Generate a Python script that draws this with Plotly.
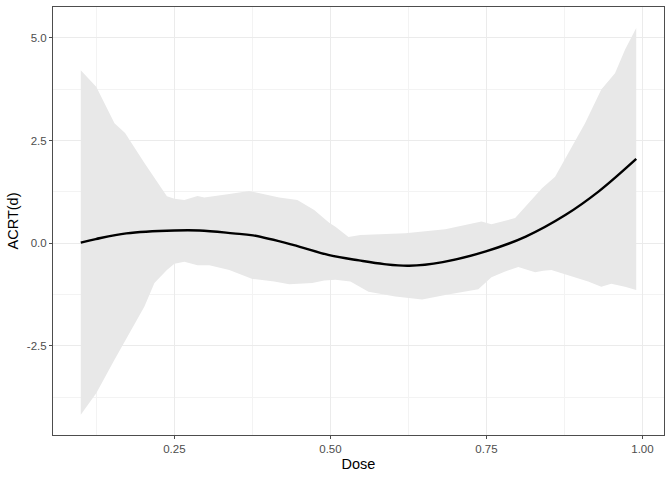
import plotly.graph_objects as go

# fitted curve
dose = [0.10, 0.124, 0.173, 0.25, 0.29, 0.344, 0.376, 0.44, 0.498, 0.546,
        0.586, 0.626, 0.68, 0.749, 0.813, 0.877, 0.93, 0.99]
acrt = [0.015, 0.10, 0.24, 0.31, 0.31, 0.24, 0.19, -0.04, -0.29, -0.42,
        -0.51, -0.55, -0.46, -0.20, 0.16, 0.69, 1.26, 2.05]

# confidence band, upper edge
up_x = [0.10, 0.125, 0.154, 0.171, 0.202, 0.226, 0.238, 0.25, 0.266, 0.287,
        0.298, 0.338, 0.37, 0.383, 0.418, 0.447, 0.474, 0.498, 0.508, 0.529,
        0.548, 0.62, 0.684, 0.742, 0.758, 0.796, 0.817, 0.839, 0.86, 0.881,
        0.908, 0.934, 0.956, 0.972, 0.99]
up_y = [4.21, 3.80, 2.92, 2.68, 1.95, 1.42, 1.14, 1.08, 1.05, 1.15,
        1.11, 1.20, 1.27, 1.23, 1.11, 1.05, 0.81, 0.50, 0.40, 0.15,
        0.20, 0.24, 0.34, 0.53, 0.46, 0.61, 0.97, 1.34, 1.62, 2.19,
        2.92, 3.74, 4.14, 4.71, 5.24]

# confidence band, lower edge
lo_x = [0.10, 0.125, 0.154, 0.171, 0.202, 0.218, 0.238, 0.25, 0.266, 0.287,
        0.306, 0.338, 0.375, 0.41, 0.434, 0.471, 0.49, 0.508, 0.532, 0.561,
        0.604, 0.647, 0.684, 0.737, 0.758, 0.78, 0.801, 0.828, 0.841, 0.854,
        0.881, 0.913, 0.934, 0.95, 0.972, 0.99]
lo_y = [-4.18, -3.65, -2.84, -2.36, -1.54, -0.97, -0.65, -0.50, -0.45, -0.54,
        -0.54, -0.65, -0.87, -0.93, -1.00, -0.97, -0.91, -0.89, -0.93, -1.18,
        -1.30, -1.37, -1.26, -1.12, -0.83, -0.69, -0.58, -0.71, -0.67, -0.65,
        -0.77, -0.93, -1.06, -0.99, -1.06, -1.14]

fig = go.Figure()
fig.add_trace(go.Scatter(
    x=up_x + lo_x[::-1], y=up_y + lo_y[::-1],
    fill="toself", fillcolor="#E8E8E8", line=dict(width=0),
    mode="lines", hoverinfo="skip", showlegend=False))
fig.add_trace(go.Scatter(
    x=dose, y=acrt, mode="lines", line=dict(color="black", width=2.4, shape="spline"),
    showlegend=False))

axis_common = dict(
    showline=True, mirror=True, linecolor="#4D4D4D", linewidth=1,
    ticks="outside", ticklen=3, tickcolor="#4D4D4D", tickwidth=1,
    gridcolor="#EBEBEB", gridwidth=1, zeroline=False,
    tickfont=dict(family="Liberation Sans", size=11.5, color="#4D4D4D"),
    minor=dict(showgrid=True, gridcolor="#F3F3F3", gridwidth=0.6),
)
fig.update_xaxes(
    range=[0.0555, 1.0345], tickvals=[0.25, 0.5, 0.75, 1.0],
    ticktext=["0.25", "0.50", "0.75", "1.00"],
    minor_tickvals=[0.125, 0.375, 0.625, 0.875],
    title=dict(text="Dose", font=dict(family="Liberation Sans", size=14.5, color="black"),
               standoff=5),
    **axis_common)
fig.update_yaxes(
    range=[-4.67, 5.75], tickvals=[-2.5, 0, 2.5, 5.0],
    ticktext=["-2.5", "0.0", "2.5", "5.0"],
    minor_tickvals=[-3.75, -1.25, 1.25, 3.75],
    title=dict(text="ACRT(d)", font=dict(family="Liberation Sans", size=14.5, color="black"),
               standoff=4),
    **axis_common)
fig.update_layout(
    width=672, height=480,
    margin=dict(l=53, r=8, t=7, b=45),
    plot_bgcolor="white", paper_bgcolor="white")
fig.write_html("out.html", config={"displayModeBar": False},
               post_script="document.body.style.margin='0px';")
